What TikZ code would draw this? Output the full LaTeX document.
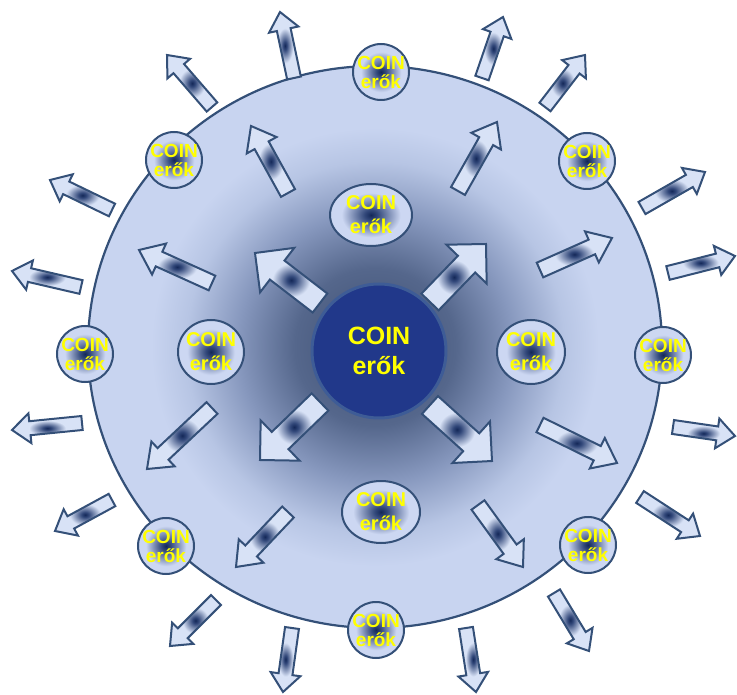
\documentclass[tikz,border=0pt]{standalone}
\usepackage{fontspec}
\setmainfont{Liberation Sans}
\usetikzlibrary{calc}
\definecolor{bgA}{RGB}{62,78,112}
\definecolor{bgB}{RGB}{85,103,140}
\definecolor{bgC}{RGB}{135,152,190}
\definecolor{bgD}{RGB}{183,197,228}
\definecolor{bgE}{RGB}{200,212,240}
\definecolor{blobA}{RGB}{20,40,88}
\definecolor{blobB}{RGB}{50,72,122}
\definecolor{arrowlt}{RGB}{216,226,246}
\definecolor{disclt}{RGB}{204,215,242}
\definecolor{edgeC}{RGB}{52,80,120}
\definecolor{coreC}{RGB}{33,56,138}
\definecolor{coreE}{RGB}{62,92,150}
\definecolor{txtY}{RGB}{255,255,0}
\pgfdeclareradialshading{bigglow}{\pgfpoint{0bp}{0bp}}{color(0bp)=(bgA); color(7bp)=(bgB); color(12bp)=(bgC); color(16.5bp)=(bgD); color(19.5bp)=(bgE); color(50bp)=(bgE)}
\pgfdeclareradialshading{arrowblob}{\pgfpoint{0bp}{0bp}}{color(0bp)=(blobA); color(3bp)=(blobB); color(13bp)=(arrowlt); color(50bp)=(arrowlt)}
\pgfdeclareradialshading{discblob}{\pgfpoint{0bp}{0bp}}{color(0bp)=(blobA); color(4bp)=(blobB); color(18bp)=(disclt); color(50bp)=(disclt)}
\tikzset{
  arrowbody/.style={shade, shading=arrowblob, draw=edgeC, line width=2pt, line join=miter},
  bigdisc/.style={shade, shading=bigglow, draw=edgeC, line width=2.2pt},
  smalldisc/.style={shade, shading=discblob, draw=edgeC, line width=2pt},
  coredisc/.style={fill=coreC, draw=coreE, line width=3pt},
  coretext/.style={text=txtY, font=\fontsize{25}{30}\selectfont\bfseries, align=center, inner sep=0pt},
  elltext/.style={text=txtY, font=\fontsize{20}{24}\selectfont\bfseries, align=center, inner sep=0pt},
  smalltext/.style={text=txtY, font=\fontsize{19}{19}\selectfont\bfseries, align=center, inner sep=0pt}
}
% tail, tip, shaft half width, head half width, head length
\newcommand\radarrow[5]{%
  \coordinate (ab) at ($(#2)!#5!(#1)$);
  \path[arrowbody] ($(#1)!#3!90:(#2)$) -- ($(ab)!#3!90:(#2)$) -- ($(ab)!#4!90:(#2)$) -- (#2)
    -- ($(ab)!#4!-90:(#2)$) -- ($(ab)!#3!-90:(#2)$) -- ($(#1)!#3!-90:(#2)$) -- cycle;
}
\begin{document}
\begin{tikzpicture}[x=1pt,y=-1pt]
\useasboundingbox (0,0) rectangle (737,695);
% big disc
\coordinate (big) at (375,347);
\path[bigdisc] (big) ellipse[x radius=287, y radius=281];
% core
\coordinate (core) at (379,351);
\path[coredisc] (core) circle[radius=67];
\node[coretext] (coreT) at (core) {COIN\\erők};
% inner arrows
\coordinate (iA1) at (320,303); \coordinate (iB1) at (255,253);
\coordinate (iA2) at (430,302); \coordinate (iB2) at (486,244);
\coordinate (iA3) at (320,402); \coordinate (iB3) at (260,460);
\coordinate (iA4) at (430,405); \coordinate (iB4) at (492,461);
\foreach \i in {1,...,4}{\radarrow{iA\i}{iB\i}{12pt}{28pt}{28pt}}
% ellipses
\coordinate (e1) at (371,215);
\coordinate (e2) at (211,352);
\coordinate (e3) at (531,352);
\coordinate (e4) at (381,512);
\path[smalldisc] (e1) ellipse[x radius=41, y radius=31];
\path[smalldisc] (e2) ellipse[x radius=33, y radius=32];
\path[smalldisc] (e3) ellipse[x radius=34, y radius=32];
\path[smalldisc] (e4) ellipse[x radius=39, y radius=31];
\node[elltext] (eT1) at (e1) {COIN\\erők};
\node[elltext] (eT2) at (e2) {COIN\\erők};
\node[elltext] (eT3) at (e3) {COIN\\erők};
\node[elltext] (eT4) at (e4) {COIN\\erők};
% middle arrows
\coordinate (mA1) at (288,193); \coordinate (mB1) at (251,126);
\coordinate (mA2) at (458,191); \coordinate (mB2) at (497,122);
\coordinate (mA3) at (212,283); \coordinate (mB3) at (139,250);
\coordinate (mA4) at (540,270); \coordinate (mB4) at (612,238);
\coordinate (mA5) at (212,408); \coordinate (mB5) at (147,469);
\coordinate (mA6) at (540,425); \coordinate (mB6) at (617,463);
\coordinate (mA7) at (288,512); \coordinate (mB7) at (236,567);
\coordinate (mA8) at (478,505); \coordinate (mB8) at (523,567);
\foreach \i in {1,...,8}{\radarrow{mA\i}{mB\i}{8pt}{17pt}{22pt}}
% small discs on the rim
\coordinate (s1) at (381,72);
\coordinate (s2) at (587,161);
\coordinate (s3) at (663,355);
\coordinate (s4) at (588,545);
\coordinate (s5) at (376,630);
\coordinate (s6) at (166,546);
\coordinate (s7) at (85,354);
\coordinate (s8) at (174,160);
\foreach \i in {1,...,8}{\path[smalldisc] (s\i) circle[radius=28];}
\foreach \i in {1,...,8}{\node[smalltext] (sT\i) at (s\i) {COIN\\erők};}
% outer arrows
\coordinate (oA1) at (294,78);  \coordinate (oB1) at (280,12);
\coordinate (oA2) at (482,78);  \coordinate (oB2) at (503,17);
\coordinate (oA3) at (212,107); \coordinate (oB3) at (167,55);
\coordinate (oA4) at (545,107); \coordinate (oB4) at (585,55);
\coordinate (oA5) at (112,210); \coordinate (oB5) at (50,180);
\coordinate (oA6) at (642,208); \coordinate (oB6) at (705,172);
\coordinate (oA7) at (81,287);  \coordinate (oB7) at (12,271);
\coordinate (oA8) at (668,273); \coordinate (oB8) at (735,256);
\coordinate (oA9) at (82,423);  \coordinate (oB9) at (12,430);
\coordinate (oA10) at (673,427); \coordinate (oB10) at (735,436);
\coordinate (oA11) at (112,500); \coordinate (oB11) at (55,531);
\coordinate (oA12) at (640,497); \coordinate (oB12) at (700,536);
\coordinate (oA13) at (216,600); \coordinate (oB13) at (170,646);
\coordinate (oA14) at (554,593); \coordinate (oB14) at (589,651);
\coordinate (oA15) at (292,628); \coordinate (oB15) at (283,692);
\coordinate (oA16) at (466,628); \coordinate (oB16) at (476,692);
\foreach \i in {1,...,16}{\radarrow{oA\i}{oB\i}{7pt}{15pt}{18pt}}
\end{tikzpicture}
\end{document}
